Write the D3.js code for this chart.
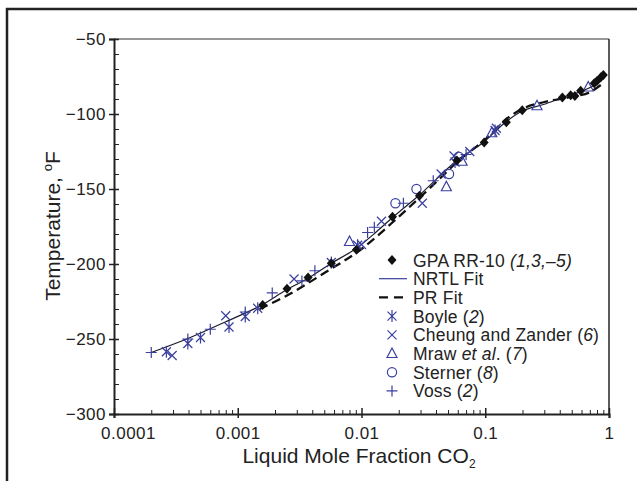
<!DOCTYPE html>
<html>
<head>
	<meta charset="utf-8">
	<title></title>
	<script src="https://d3js.org/d3.v7.min.js"></script>
	<style>
		body{ margin:0; background:#fff; }
		text{ font-family:"Liberation Sans", Arial, sans-serif; fill:#222; }
		.blue{ stroke:#3a3f9e; fill:none; stroke-width:1.2; }
	</style>
</head>
<body>
	<svg width='637' height='481'></svg>
</body>
<script>
	// mole fraction CO2 vs temperature (F)
	var gpa = [[1.59e-3,-227.3],[2.5e-3,-216.5],[3.7e-3,-209],[5.7e-3,-199.5],[9.1e-3,-190.5],
		[1.78e-2,-168.5],[2.94e-2,-154.5],[5.9e-2,-131],[9.8e-2,-119],[0.148,-105.5],[0.199,-97.5],
		[0.42,-89],[0.49,-87.5],[0.53,-88],[0.59,-84.5],[0.76,-79.5],[0.8,-78],[0.86,-75.5],[0.9,-74]];
	var nrtl = [[2e-4,-259],[4e-4,-249.5],[8e-4,-238.5],[1.59e-3,-227],[2.5e-3,-217],[3.7e-3,-209.5],
		[5.7e-3,-199.5],[9.1e-3,-189.5],[1.3e-2,-179],[1.78e-2,-169],[2.94e-2,-154],[5.9e-2,-131],
		[9.8e-2,-118.5],[0.148,-105],[0.199,-98],[0.3,-93.5],[0.42,-89],[0.59,-85],[0.75,-81],[0.9,-74.5]];
	var pr = [[1.5e-3,-230],[2.5e-3,-221],[5e-3,-206],[1e-2,-190],[2e-2,-168.5],[4e-2,-145.5],
		[6e-2,-131.5],[0.1,-117],[0.15,-103],[0.2,-96.5],[0.3,-92],[0.5,-88.5],[0.7,-85.5],[0.88,-80]];
	var boyle = [[2.65e-4,-258.5],[3.95e-4,-253],[5e-4,-249],[8.5e-4,-242],[1.15e-3,-235],[1.45e-3,-229.5],
		[5.7e-3,-199],[9.3e-3,-187.5],[5.7e-2,-132],[0.12,-111]];
	var cheung = [[2.95e-4,-261],[8e-4,-234.5],[2.85e-3,-210],[1e-2,-187],[1.45e-2,-171.5],[3.1e-2,-159.5],
		[4.4e-2,-140],[5.6e-2,-128],[7.5e-2,-125],[0.123,-109.5]];
	var mraw = [[8e-3,-185],[4.85e-2,-148.5],[6.5e-2,-131.5],[0.113,-112.5],[0.262,-94.5],[0.68,-82]];
	var sterner = [[1.88e-2,-159.5],[2.78e-2,-150],[5.1e-2,-140],[6.1e-2,-128.5]];
	var voss = [[2e-4,-259],[3.95e-4,-250],[6e-4,-243.5],[1.15e-3,-232],[1.9e-3,-219.3],[3.3e-3,-211.3],
		[4.2e-3,-204.5],[1.12e-2,-179],[1.27e-2,-175.5],[2.18e-2,-159.5],[3.8e-2,-144.5],[7e-2,-127]];

	var xMajor = [1e-4, 1e-3, 1e-2, 1e-1, 1];
	var xLabels = ['0.0001', '0.001', '0.01', '0.1', '1'];
	var yMajor = [-50, -100, -150, -200, -250, -300];

	var svg = d3.select('svg');
	var blue = '#3a3f9e';

	// outer frame
	svg.append('path').attr('d', 'M7,481V9H640').attr('fill', 'none')
		.attr('stroke', '#222').attr('stroke-width', 2.5);

	var L = 114, R = 609, T = 39, B = 414;
	var x = d3.scaleLog().domain([1e-4, 1]).range([L, R]);
	var y = d3.scaleLinear().domain([-300, -50]).range([B, T]);

	// top / right frame of plot
	svg.append('line').attr('x1', L).attr('x2', R).attr('y1', T).attr('y2', T)
		.attr('stroke', '#333').attr('stroke-width', 1);
	svg.append('line').attr('x1', R).attr('x2', R).attr('y1', T).attr('y2', B)
		.attr('stroke', '#333').attr('stroke-width', 1.6);

	// minor ticks
	var yMinor = d3.range(-300, -49, 10).filter(function(d){ return d % 50 !== 0; });
	var xMinor = [];
	[1e-4, 1e-3, 1e-2, 1e-1].forEach(function(d){
		for (var k = 2; k < 10; k++) xMinor.push(d * k);
	});

	var gy = svg.append('g').attr('transform', 'translate(' + L + ',0)')
		.call(d3.axisLeft(y).tickValues(yMajor).tickSize(5).tickPadding(3)
			.tickFormat(function(d){ return '\u2212' + Math.abs(d); }));
	gy.selectAll('.tick line').attr('x2', -5).attr('x1', 5).attr('stroke-width', 1.5);
	svg.append('g').attr('transform', 'translate(' + L + ',0)')
		.call(d3.axisLeft(y).tickValues(yMinor).tickSize(-5).tickFormat(''))
		.select('.domain').remove();

	var gx = svg.append('g').attr('transform', 'translate(0,' + B + ')')
		.call(d3.axisBottom(x).tickValues(xMajor).tickSize(4).tickPadding(9)
			.tickFormat(function(d, i){ return xLabels[i]; }));
	gx.selectAll('.tick line').attr('y1', -6).attr('y2', 4).attr('stroke-width', 1.5);
	gx.selectAll('.tick text').attr('dx', function(d, i){ return i === 0 ? 14 : 0; });
	svg.append('g').attr('transform', 'translate(0,' + B + ')')
		.call(d3.axisBottom(x).tickValues(xMinor).tickSize(-4).tickFormat(''))
		.select('.domain').remove();

	svg.selectAll('.domain').attr('stroke', '#222').attr('stroke-width', 2);
	svg.selectAll('.tick line').attr('stroke', '#222');
	svg.selectAll('.tick text').attr('fill', '#222')
		.style('font-family', '"Liberation Sans", Arial, sans-serif')
		.style('font-size', '17px').style('letter-spacing', '0.5px');

	// fit lines
	var line = d3.line().x(function(d){ return x(d[0]); }).y(function(d){ return y(d[1]); })
		.curve(d3.curveMonotoneX);
	svg.append('path').datum(pr).attr('d', line).attr('fill', 'none')
		.attr('stroke', '#111').attr('stroke-width', 2.3).attr('stroke-dasharray', '9,5');
	svg.append('path').datum(nrtl).attr('d', line).attr('fill', 'none')
		.attr('stroke', '#1b1b2e').attr('stroke-width', 1.2);

	// marker shapes
	var shapes = {
		diamond: function(g){ g.append('path').attr('d', 'M0,-5L4.5,0L0,5L-4.5,0Z').attr('fill', '#111'); },
		asterisk: function(g){ g.append('path').attr('class', 'blue').attr('d', 'M-4.5,-4.5L4.5,4.5M-4.5,4.5L4.5,-4.5M0,-6V6'); },
		cross: function(g){ g.append('path').attr('class', 'blue').attr('d', 'M-4.5,-4.5L4.5,4.5M-4.5,4.5L4.5,-4.5'); },
		triangle: function(g){ g.append('path').attr('class', 'blue').attr('d', 'M0,-5.5L5,4L-5,4Z'); },
		circle: function(g){ g.append('circle').attr('class', 'blue').attr('r', 4.6); },
		plus: function(g){ g.append('path').attr('class', 'blue').attr('d', 'M-5.5,0H5.5M0,-5.5V5.5'); }
	};

	function drawPoints(data, shape){
		svg.append('g').selectAll('g').data(data).enter().append('g')
			.attr('transform', function(d){ return 'translate(' + x(d[0]) + ',' + y(d[1]) + ')'; })
			.each(function(){ shapes[shape](d3.select(this)); });
	}
	drawPoints(voss, 'plus');
	drawPoints(cheung, 'cross');
	drawPoints(boyle, 'asterisk');
	drawPoints(mraw, 'triangle');
	drawPoints(sterner, 'circle');
	drawPoints(gpa, 'diamond');

	// legend
	var legend = [
		{shape: 'diamond', parts: [['GPA RR-10  ', 0], ['(1,3,\u20135)', 1]]},
		{shape: 'nrtl', parts: [['NRTL Fit', 0]]},
		{shape: 'pr', parts: [['PR Fit', 0]]},
		{shape: 'asterisk', parts: [['Boyle (', 0], ['2', 1], [')', 0]]},
		{shape: 'cross', parts: [['Cheung and Zander (', 0], ['6', 1], [')', 0]]},
		{shape: 'triangle', parts: [['Mraw ', 0], ['et al', 1], ['. (', 0], ['7', 1], [')', 0]]},
		{shape: 'circle', parts: [['Sterner (', 0], ['8', 1], [')', 0]]},
		{shape: 'plus', parts: [['Voss (', 0], ['2', 1], [')', 0]]}
	];
	var lg = svg.append('g').attr('transform', 'translate(392,260)');
	legend.forEach(function(e, i){
		var row = lg.append('g').attr('transform', 'translate(0,' + (i * 18.7) + ')');
		if (e.shape === 'nrtl') {
			row.append('line').attr('x1', -13).attr('x2', 15).attr('stroke', blue).attr('stroke-width', 1.2);
		} else if (e.shape === 'pr') {
			row.append('line').attr('x1', -13).attr('x2', 15).attr('stroke', '#111')
				.attr('stroke-width', 2.4).attr('stroke-dasharray', '9,6');
		} else {
			shapes[e.shape](row);
		}
		var t = row.append('text').attr('x', 21).attr('y', 6.5)
			.style('font-size', '17.5px').style('letter-spacing', '0.2px');
		e.parts.forEach(function(p){
			t.append('tspan').text(p[0]).style('font-style', p[1] ? 'italic' : 'normal');
		});
	});

	// axis titles
	var xt = svg.append('text').attr('x', 359).attr('y', 463).attr('text-anchor', 'middle')
		.style('font-size', '21px');
	xt.append('tspan').text('Liquid Mole Fraction CO');
	xt.append('tspan').text('2').attr('dy', 5).style('font-size', '12px');

	var yt = svg.append('text').attr('transform', 'translate(60,226) rotate(-90)')
		.attr('text-anchor', 'middle').style('font-size', '21px');
	yt.append('tspan').text('Temperature, ');
	yt.append('tspan').text('o').attr('dy', -8).style('font-size', '13px');
	yt.append('tspan').text('F').attr('dy', 8);
</script>
</html>
